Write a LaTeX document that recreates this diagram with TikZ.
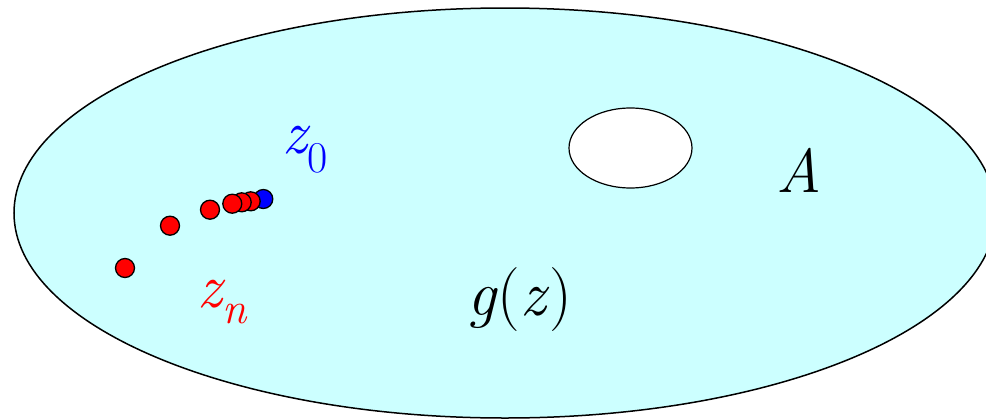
\documentclass[tikz,border=0pt]{standalone}
\definecolor{regionfill}{RGB}{204,255,255}
\tikzset{
  dot/.style={circle, draw=black, line width=1.3pt, inner sep=0pt, minimum size=19pt},
  lbl/.style={anchor=base west, inner sep=0pt, font=\fontsize{62}{70}\selectfont},
}
\newcommand{\subsz}{\fontsize{44}{48}\selectfont}
\begin{document}
\begin{tikzpicture}[x=1pt,y=-1pt]
\useasboundingbox (0,0) rectangle (986,418);
\draw[fill=regionfill, line width=1.5pt] (505,213) ellipse [x radius=491, y radius=205];
\draw[fill=white, line width=1.2pt] (630.5,148) ellipse [x radius=61.5, y radius=40];
% points
\node[dot, fill=blue] (p0) at (263.3,199) {};
\node[dot, fill=red] (p1) at (250.7,201.3) {};
\node[dot, fill=red] (p2) at (241.7,202.3) {};
\node[dot, fill=red] (p3) at (232.3,203.7) {};
\node[dot, fill=red] (p4) at (210,209.7) {};
\node[dot, fill=red] (p5) at (170,225.7) {};
\node[dot, fill=red] (p6) at (125,268) {};
% labels
\node[lbl, text=blue] (z0) at (282,153) {\itshape z\raisebox{-19pt}{\subsz\upshape 0}};
\node[lbl, text=red] (zn) at (197,307) {\itshape z\raisebox{-16pt}{\subsz n}};
\node[lbl, font=\fontsize{64}{72}\selectfont] (gz) at (467,315) {\textit{g}(\textit{z})};
\node[lbl] (A) at (776,192) {\itshape A};
\end{tikzpicture}
\end{document}
